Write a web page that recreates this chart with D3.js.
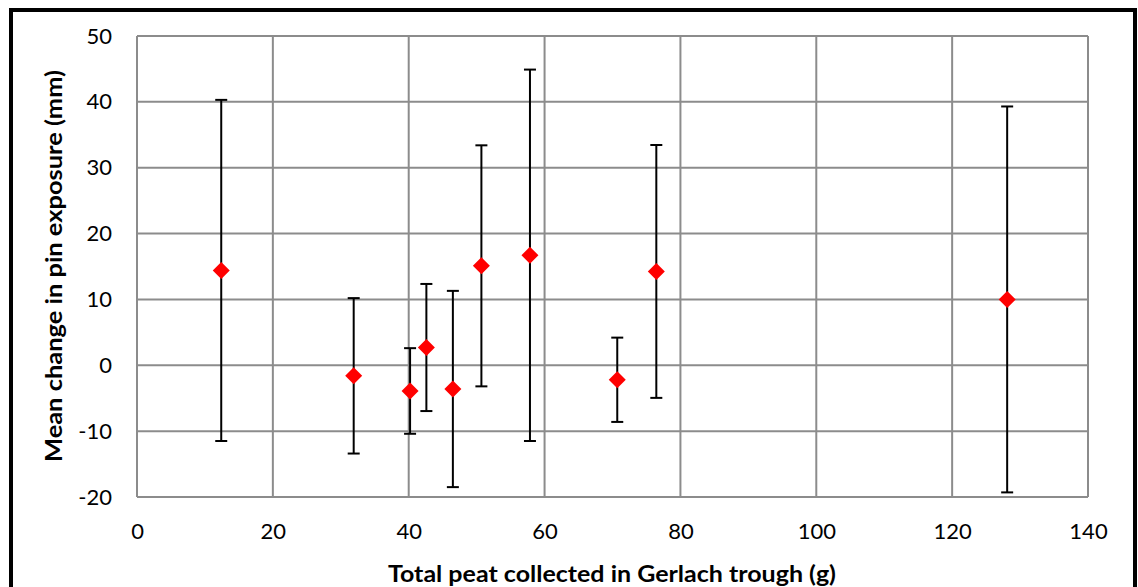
<!DOCTYPE html>
<html>
<head>
<meta charset="utf-8">
<script src="https://cdn.jsdelivr.net/npm/d3@7"></script>
<style>
  html, body { margin: 0; padding: 0; background: #fff; }
  svg { display: block; }
  text { font-family: Lato, "Open Sans", "Liberation Sans", sans-serif; fill: #000; }
</style>
</head>
<body>
<svg id="chart" width="1138" height="587"></svg>
<script>
// Total peat collected in the Gerlach trough (g)
const peatCollected = [12.4, 31.9, 40.2, 42.6, 46.5, 50.7, 57.85, 70.7, 76.45, 128.1];
// Mean change in pin exposure (mm)
const meanChange = [14.4, -1.6, -3.9, 2.7, -3.6, 15.1, 16.7, -2.2, 14.25, 10.0];
// Error bar half-widths (mm)
const errorSize = [25.9, 11.8, 6.5, 9.65, 14.9, 18.3, 28.2, 6.4, 19.2, 29.3];

const xTicks = [0, 20, 40, 60, 80, 100, 120, 140];
const yTicks = [-20, -10, 0, 10, 20, 30, 40, 50];

const xTitle = "Total peat collected in Gerlach trough (g)";
const yTitle = "Mean change in pin exposure (mm)";

const plot = { left: 137, right: 1088, top: 36, bottom: 497 };

const svg = d3.select("#chart");

// outer frame
svg.append("rect")
  .attr("x", 11).attr("y", 10)
  .attr("width", 1124).attr("height", 590)
  .attr("fill", "#fff").attr("stroke", "#000").attr("stroke-width", 4);

const x = d3.scaleLinear().domain([0, 140]).range([plot.left, plot.right]);
const y = d3.scaleLinear().domain([-20, 50]).range([plot.bottom, plot.top]);

// gridlines
const grid = svg.append("g").attr("stroke", "#8c8c8c").attr("stroke-width", 2);
grid.selectAll("line.h").data(yTicks).join("line")
  .attr("class", "h")
  .attr("x1", plot.left).attr("x2", plot.right)
  .attr("y1", d => y(d)).attr("y2", d => y(d));
grid.selectAll("line.v").data(xTicks).join("line")
  .attr("class", "v")
  .attr("x1", d => x(d)).attr("x2", d => x(d))
  .attr("y1", plot.top).attr("y2", plot.bottom);

// axes (labels only; the grid provides the lines)
const plain = d => String(d);
const xAxis = svg.append("g")
  .attr("transform", `translate(0,${plot.bottom})`)
  .call(d3.axisBottom(x).tickValues(xTicks).tickSize(0).tickPadding(26).tickFormat(plain));
const yAxis = svg.append("g")
  .attr("transform", `translate(${plot.left},0)`)
  .call(d3.axisLeft(y).tickValues(yTicks).tickSize(0).tickPadding(25).tickFormat(plain));
[xAxis, yAxis].forEach(a => {
  a.select(".domain").remove();
  a.selectAll("text")
    .attr("font-family", "Lato, 'Open Sans', sans-serif")
    .attr("font-size", 22)
    .attr("fill", "#000");
});

// error bars
const eb = svg.append("g").attr("stroke", "#000").attr("stroke-width", 2);
const pts = peatCollected.map((v, i) => ({ x: v, y: meanChange[i], e: errorSize[i] }));
const cap = 6;
eb.selectAll("line.stem").data(pts).join("line")
  .attr("class", "stem")
  .attr("x1", d => x(d.x)).attr("x2", d => x(d.x))
  .attr("y1", d => y(d.y + d.e)).attr("y2", d => y(d.y - d.e));
eb.selectAll("line.capt").data(pts).join("line")
  .attr("class", "capt")
  .attr("x1", d => x(d.x) - cap).attr("x2", d => x(d.x) + cap)
  .attr("y1", d => y(d.y + d.e)).attr("y2", d => y(d.y + d.e));
eb.selectAll("line.capb").data(pts).join("line")
  .attr("class", "capb")
  .attr("x1", d => x(d.x) - cap).attr("x2", d => x(d.x) + cap)
  .attr("y1", d => y(d.y - d.e)).attr("y2", d => y(d.y - d.e));

// diamond markers
const r = 8.5;
svg.append("g").selectAll("path").data(pts).join("path")
  .attr("d", d => {
    const cx = x(d.x), cy = y(d.y);
    return `M${cx},${cy - r}L${cx + r},${cy}L${cx},${cy + r}L${cx - r},${cy}Z`;
  })
  .attr("fill", "#ff0000");

// axis titles
svg.append("text")
  .attr("x", 612).attr("y", 582)
  .attr("text-anchor", "middle")
  .attr("font-size", 23).attr("font-weight", "bold")
  .attr("textLength", 448).attr("lengthAdjust", "spacingAndGlyphs")
  .text(xTitle);
svg.append("text")
  .attr("transform", "translate(62,266) rotate(-90)")
  .attr("text-anchor", "middle")
  .attr("font-size", 23).attr("font-weight", "bold")
  .attr("textLength", 392).attr("lengthAdjust", "spacingAndGlyphs")
  .text(yTitle);
</script>
</body>
</html>
